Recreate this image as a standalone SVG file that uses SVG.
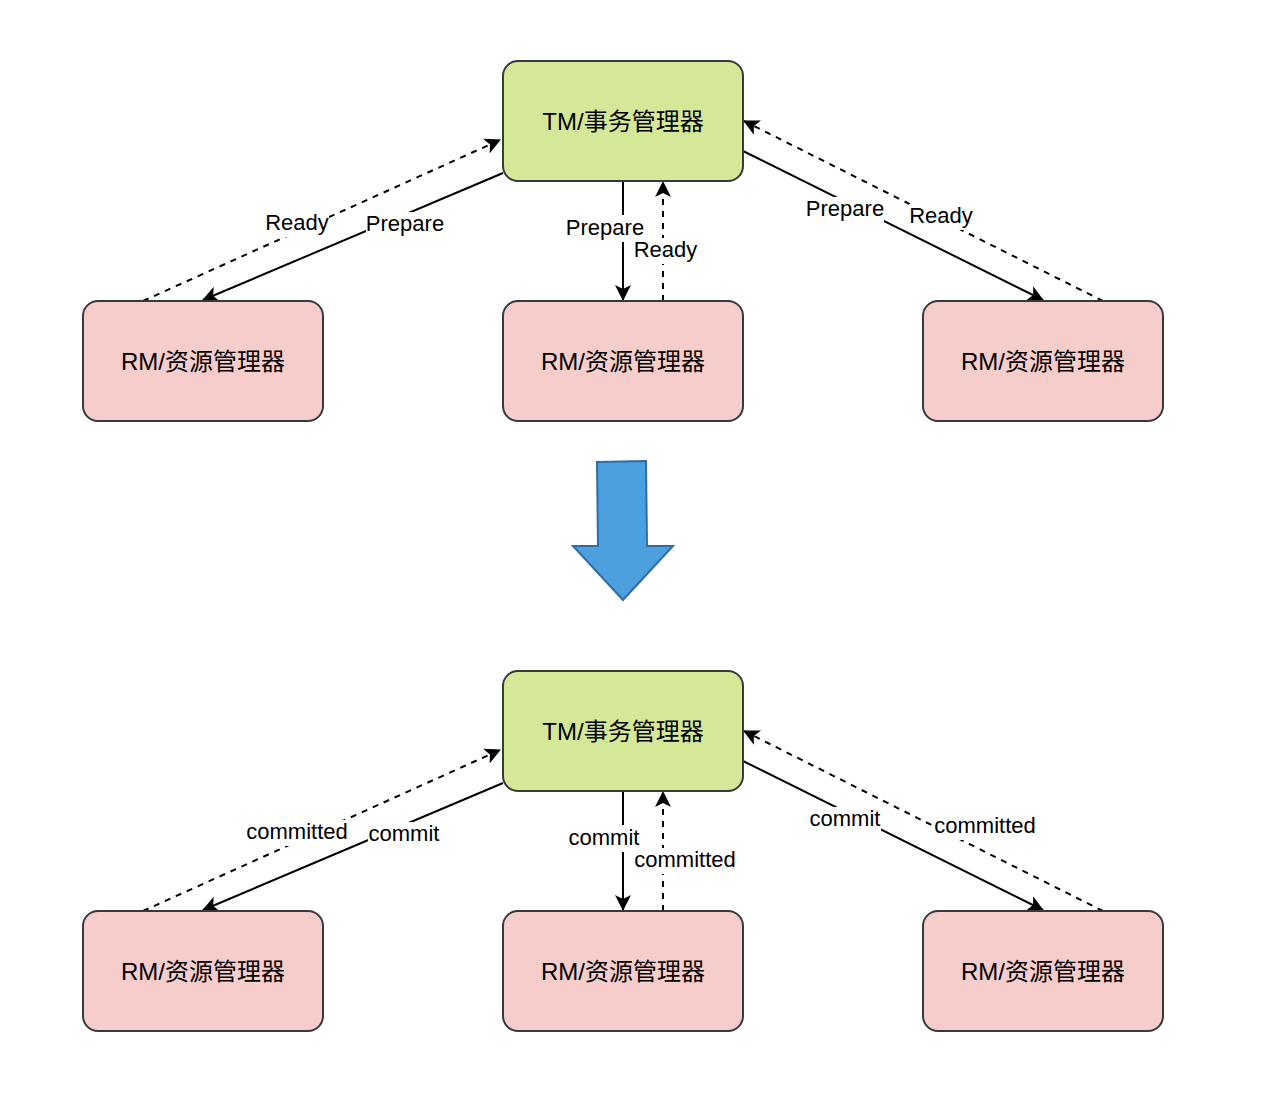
<svg xmlns="http://www.w3.org/2000/svg" width="1268" height="1120" viewBox="0 0 1268 1120">
<defs>
<style>
.tm{fill:#d5e897;stroke:#36393d;stroke-width:2}
.rm{fill:#f7cdcc;stroke:#36393d;stroke-width:2}
.nt{font-family:"Liberation Sans","Noto Sans CJK SC",sans-serif;font-size:24px;fill:#000;text-anchor:middle}
.lt{font-family:"Liberation Sans",sans-serif;font-size:22px;fill:#000;text-anchor:middle}
.ln{fill:none;stroke:#000;stroke-width:2}
.dash{stroke-dasharray:6 6}
.bg{fill:#fff}
</style>
<marker id="ah" markerUnits="userSpaceOnUse" viewBox="0 0 16 16" markerWidth="16" markerHeight="16" refX="15" refY="8" orient="auto">
<path d="M0,0 L16,8 L0,16 L4,8 z" fill="#000"/>
</marker>
</defs>
<rect width="1268" height="1120" fill="#fff"/>
<g id="connectors">
<!-- top -->
<line class="ln" x1="503" y1="173" x2="203" y2="300" marker-end="url(#ah)"/>
<line class="ln dash" x1="143" y1="301" x2="500" y2="140" marker-end="url(#ah)"/>
<line class="ln" x1="623" y1="181" x2="623" y2="300" marker-end="url(#ah)"/>
<line class="ln dash" x1="663" y1="301" x2="663" y2="182" marker-end="url(#ah)"/>
<line class="ln" x1="743" y1="151" x2="1043" y2="300" marker-end="url(#ah)"/>
<line class="ln dash" x1="1103" y1="301" x2="744" y2="121" marker-end="url(#ah)"/>
<!-- bottom -->
<line class="ln" x1="503" y1="783" x2="203" y2="910" marker-end="url(#ah)"/>
<line class="ln dash" x1="143" y1="911" x2="500" y2="750" marker-end="url(#ah)"/>
<line class="ln" x1="623" y1="791" x2="623" y2="910" marker-end="url(#ah)"/>
<line class="ln dash" x1="663" y1="911" x2="663" y2="792" marker-end="url(#ah)"/>
<line class="ln" x1="743" y1="761" x2="1043" y2="910" marker-end="url(#ah)"/>
<line class="ln dash" x1="1103" y1="911" x2="744" y2="731" marker-end="url(#ah)"/>
<!-- labels -->
<rect class="bg" x="265" y="211" width="64" height="26"/><text class="lt" x="297" y="230">Ready</text>
<rect class="bg" x="366" y="212" width="78" height="26"/><text class="lt" x="405" y="231">Prepare</text>
<rect class="bg" x="566" y="215" width="78" height="27"/><text class="lt" x="605" y="235">Prepare</text>
<rect class="bg" x="634" y="238" width="64" height="26"/><text class="lt" x="665.5" y="257">Ready</text>
<rect class="bg" x="806" y="197" width="78" height="26"/><text class="lt" x="845" y="216">Prepare</text>
<rect class="bg" x="909" y="204" width="64" height="26"/><text class="lt" x="941" y="223">Ready</text>
<rect class="bg" x="245" y="820" width="104" height="26"/><text class="lt" x="297" y="839">committed</text>
<rect class="bg" x="368" y="822" width="72" height="26"/><text class="lt" x="404" y="841">commit</text>
<rect class="bg" x="568" y="825" width="72" height="27"/><text class="lt" x="604" y="845">commit</text>
<rect class="bg" x="633" y="848" width="104" height="26"/><text class="lt" x="685" y="867">committed</text>
<rect class="bg" x="809" y="807" width="72" height="26"/><text class="lt" x="845" y="826">commit</text>
<rect class="bg" x="933" y="814" width="104" height="26"/><text class="lt" x="985" y="833">committed</text>
</g>
<g id="tm1"><rect class="tm" x="503" y="61" width="240" height="120" rx="15"/><text class="nt" x="623" y="130">TM/事务管理器</text></g>
<g id="rm1"><rect class="rm" x="83" y="301" width="240" height="120" rx="15"/><text class="nt" x="203" y="370">RM/资源管理器</text></g>
<g id="rm2"><rect class="rm" x="503" y="301" width="240" height="120" rx="15"/><text class="nt" x="623" y="370">RM/资源管理器</text></g>
<g id="rm3"><rect class="rm" x="923" y="301" width="240" height="120" rx="15"/><text class="nt" x="1043" y="370">RM/资源管理器</text></g>
<g id="arrow"><polygon points="597,462 646,461 647,546 673,546 623,600 573,546 598,546" fill="#4ca0dd" stroke="#2f6ca8" stroke-width="2"/></g>
<g id="tm2"><rect class="tm" x="503" y="671" width="240" height="120" rx="15"/><text class="nt" x="623" y="740">TM/事务管理器</text></g>
<g id="rm4"><rect class="rm" x="83" y="911" width="240" height="120" rx="15"/><text class="nt" x="203" y="980">RM/资源管理器</text></g>
<g id="rm5"><rect class="rm" x="503" y="911" width="240" height="120" rx="15"/><text class="nt" x="623" y="980">RM/资源管理器</text></g>
<g id="rm6"><rect class="rm" x="923" y="911" width="240" height="120" rx="15"/><text class="nt" x="1043" y="980">RM/资源管理器</text></g>
</svg>
